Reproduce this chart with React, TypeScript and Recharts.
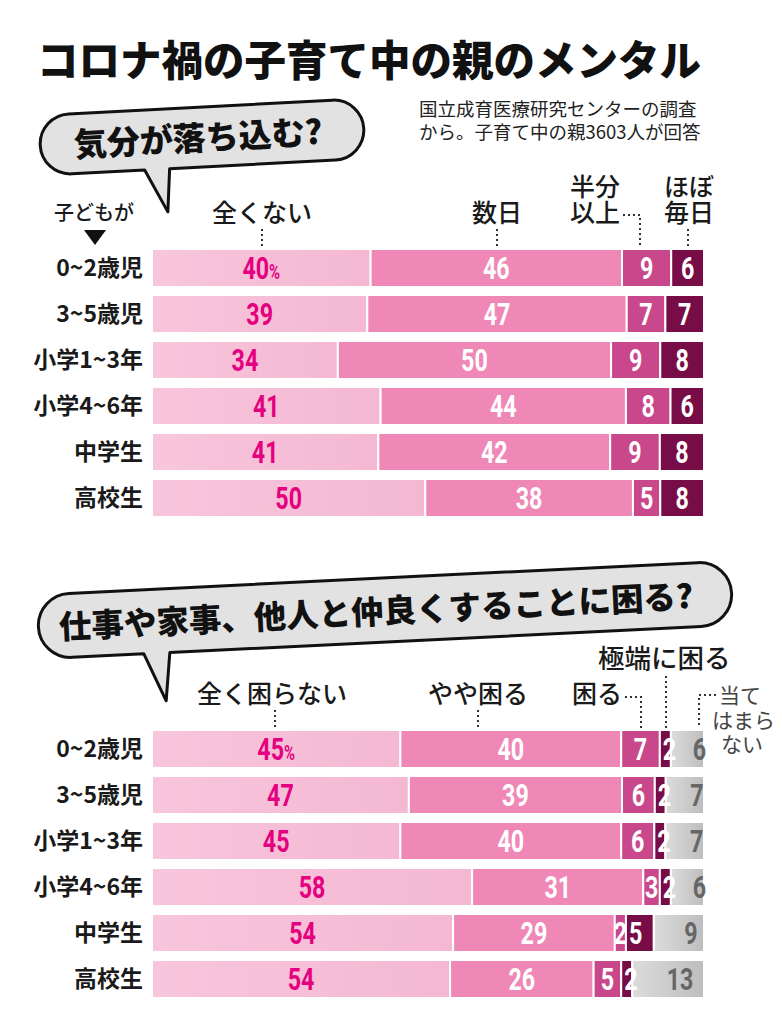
import { BarChart, Bar, XAxis, YAxis, LabelList } from 'recharts'

const ages = ['0~2歳児', '3~5歳児', '小学1~3年', '小学4~6年', '中学生', '高校生']

// 気分が落ち込む？ (%)
const moodNone = [40, 39, 34, 41, 41, 50]
const moodFewDays = [46, 47, 50, 44, 42, 38]
const moodHalf = [9, 7, 9, 8, 9, 5]
const moodDaily = [6, 7, 8, 6, 8, 8]

// 仕事や家事、他人と仲良くすることに困る？ (%)
const lifeNotAtAll = [45, 47, 45, 58, 54, 54]
const lifeSlightly = [40, 39, 40, 31, 29, 26]
const lifeTrouble = [7, 6, 6, 3, 2, 5]
const lifeExtreme = [2, 2, 2, 2, 5, 2]
const lifeNA = [6, 7, 7, 6, 9, 13]

const moodData = ages.map((name, i) => ({
  name,
  none: moodNone[i],
  few: moodFewDays[i],
  half: moodHalf[i],
  daily: moodDaily[i],
}))

const lifeData = ages.map((name, i) => ({
  name,
  notAtAll: lifeNotAtAll[i],
  slightly: lifeSlightly[i],
  trouble: lifeTrouble[i],
  extreme: lifeExtreme[i],
  na: lifeNA[i],
}))

const C2 = '#ef88b6'
const C3 = '#c9488b'
const C4 = '#780c47'
const MAGENTA = '#e4007f'

const JP = "'Noto Sans CJK JP', 'Noto Sans', sans-serif"
const NUM = "Roboto, 'Liberation Sans', sans-serif"

function makeLabel(values: number[], color: string, mode: 'center' | 'start' | 'shift' = 'center', pct = false) {
  return (props: any) => {
    const { x, y, width, height, index } = props
    const v = values[index]
    let cx = x + width / 2
    let anchor: 'middle' | 'start' = 'middle'
    if (mode === 'start') {
      cx = x + 3
      anchor = 'start'
    } else if (mode === 'shift') {
      cx = x + width / 2 + 12
    }
    const cy = y + height / 2 + 11
    return (
      <g transform={`translate(${cx},${cy}) scale(0.75,1)`}>
        <text x={0} y={0} textAnchor={anchor} fill={color} fontFamily={NUM} fontWeight={700} fontSize={31}>
          {v}
          {pct && index === 0 ? <tspan fontSize={20}>%</tspan> : null}
        </text>
      </g>
    )
  }
}

function AgeTick(props: any) {
  const { y, payload } = props
  return (
    <text x={143} y={y + 8} textAnchor="end" fill="#1a1a1a" fontFamily={JP} fontWeight={700} fontSize={23}>
      {payload.value}
    </text>
  )
}

function Dots({ d }: { d: string }) {
  return <path d={d} stroke="#333" strokeWidth={2} strokeDasharray="2 3" fill="none" />
}

function Overlay() {
  const hdr = { fontFamily: JP, fontWeight: 500, fontSize: 25, fill: '#1a1a1a' }
  return (
    <svg width={782} height={1024} style={{ position: 'absolute', left: 0, top: 0, pointerEvents: 'none' }}>
      <text x={37} y={76} fontFamily={JP} fontWeight={900} fontSize={41.5} fill="#111">
        コロナ禍の子育て中の親のメンタル
      </text>
      <text fontFamily={JP} fontSize={18.5} fill="#222">
        <tspan x={419} y={116}>国立成育医療研究センターの調査</tspan>
        <tspan x={419} y={139}>から。子育て中の親3603人が回答</tspan>
      </text>

      {/* bubble 1 */}
      <g transform="rotate(-3 202 137)">
        <path
          d="M 70 107 H 334 A 30 30 0 0 1 334 167 H 168 L 164 210 L 143 167 H 70 A 30 30 0 0 1 70 107 Z"
          fill="#e2e2e2"
          stroke="#111"
          strokeWidth={3}
          strokeLinejoin="round"
        />
        <text x={198} y={150} textAnchor="middle" fontFamily={JP} fontWeight={800} fontSize={33} fill="#111">
          気分が落ち込む?
        </text>
      </g>

      {/* bubble 2 */}
      <g transform="rotate(-2.8 385 610)">
        <path
          d="M 70 578 H 700 A 32 32 0 0 1 700 642 H 168 L 162 690 L 142 642 H 70 A 32 32 0 0 1 70 578 Z"
          fill="#e2e2e2"
          stroke="#111"
          strokeWidth={3}
          strokeLinejoin="round"
        />
        <text x={376} y={623} textAnchor="middle" fontFamily={JP} fontWeight={800} fontSize={32.5} fill="#111">
          仕事や家事、他人と仲良くすることに困る?
        </text>
      </g>

      {/* top headers */}
      <text x={94} y={220} textAnchor="middle" fontFamily={JP} fontWeight={500} fontSize={20} fill="#1a1a1a">子どもが</text>
      <path d="M 84 230 H 106 L 95 245 Z" fill="#111" />
      <text x={262} y={222} textAnchor="middle" {...hdr}>全くない</text>
      <Dots d="M 262 229 V 248" />
      <text x={497} y={222} textAnchor="middle" {...hdr}>数日</text>
      <Dots d="M 497 229 V 248" />
      <text {...hdr}>
        <tspan x={570} y={196}>半分</tspan>
        <tspan x={570} y={222}>以上</tspan>
      </text>
      <Dots d="M 623 215 H 640 V 248" />
      <text {...hdr}>
        <tspan x={664} y={196}>ほぼ</tspan>
        <tspan x={664} y={222}>毎日</tspan>
      </text>
      <Dots d="M 688 229 V 248" />

      {/* bottom headers */}
      <text x={598} y={668} {...hdr} fontSize={26.5}>極端に困る</text>
      <Dots d="M 666 676 V 728" />
      <text x={272} y={703} textAnchor="middle" {...hdr}>全く困らない</text>
      <Dots d="M 275 710 V 728" />
      <text x={478} y={703} textAnchor="middle" {...hdr}>やや困る</text>
      <Dots d="M 478 710 V 728" />
      <text x={572} y={703} {...hdr}>困る</text>
      <Dots d="M 625 697 H 641 V 728" />
      <Dots d="M 716 695 H 699 V 728" />
      <text fontFamily={JP} fontSize={21} fill="#444">
        <tspan x={719} y={703}>当て</tspan>
        <tspan x={712} y={728}>はまら</tspan>
        <tspan x={721} y={752}>ない</tspan>
      </text>
    </svg>
  )
}

export default function App() {
  return (
    <div style={{ position: 'absolute', left: 0, top: 0, width: 782, height: 1024, background: '#fff', overflow: 'hidden' }}>
      <div style={{ position: 'absolute', left: 0, top: 245 }}>
        <BarChart
          width={782}
          height={276}
          data={moodData}
          layout="vertical"
          stackOffset="expand"
          margin={{ top: 0, right: 78, bottom: 0, left: 0 }}
        >
          <defs>
            <linearGradient id="pinkA" x1="0" y1="0" x2="1" y2="0">
              <stop offset="0%" stopColor="#f8c6dc" />
              <stop offset="100%" stopColor="#f4b8d2" />
            </linearGradient>
          </defs>
          <XAxis type="number" domain={[0, 1]} hide />
          <YAxis type="category" dataKey="name" width={152} axisLine={false} tickLine={false} tick={<AgeTick />} />
          <Bar dataKey="none" stackId="a" fill="url(#pinkA)" stroke="#fff" strokeWidth={2} barSize={38} isAnimationActive={false}>
            <LabelList content={makeLabel(moodNone, MAGENTA, 'center', true)} />
          </Bar>
          <Bar dataKey="few" stackId="a" fill={C2} stroke="#fff" strokeWidth={2} barSize={38} isAnimationActive={false}>
            <LabelList content={makeLabel(moodFewDays, '#fff')} />
          </Bar>
          <Bar dataKey="half" stackId="a" fill={C3} stroke="#fff" strokeWidth={2} barSize={38} isAnimationActive={false}>
            <LabelList content={makeLabel(moodHalf, '#fff')} />
          </Bar>
          <Bar dataKey="daily" stackId="a" fill={C4} stroke="#fff" strokeWidth={2} barSize={38} isAnimationActive={false}>
            <LabelList content={makeLabel(moodDaily, '#fff')} />
          </Bar>
        </BarChart>
      </div>

      <div style={{ position: 'absolute', left: 0, top: 726 }}>
        <BarChart
          width={782}
          height={276}
          data={lifeData}
          layout="vertical"
          stackOffset="expand"
          margin={{ top: 0, right: 78, bottom: 0, left: 0 }}
        >
          <defs>
            <linearGradient id="pinkB" x1="0" y1="0" x2="1" y2="0">
              <stop offset="0%" stopColor="#f8c6dc" />
              <stop offset="100%" stopColor="#f4b8d2" />
            </linearGradient>
            <linearGradient id="grayNA" x1="0" y1="0" x2="1" y2="0">
              <stop offset="0%" stopColor="#dcdcdc" />
              <stop offset="100%" stopColor="#bdbdbd" />
            </linearGradient>
          </defs>
          <XAxis type="number" domain={[0, 1]} hide />
          <YAxis type="category" dataKey="name" width={152} axisLine={false} tickLine={false} tick={<AgeTick />} />
          <Bar dataKey="notAtAll" stackId="b" fill="url(#pinkB)" stroke="#fff" strokeWidth={2} barSize={38} isAnimationActive={false}>
            <LabelList content={makeLabel(lifeNotAtAll, MAGENTA, 'center', true)} />
          </Bar>
          <Bar dataKey="slightly" stackId="b" fill={C2} stroke="#fff" strokeWidth={2} barSize={38} isAnimationActive={false}>
            <LabelList content={makeLabel(lifeSlightly, '#fff')} />
          </Bar>
          <Bar dataKey="trouble" stackId="b" fill={C3} stroke="#fff" strokeWidth={2} barSize={38} isAnimationActive={false}>
            <LabelList content={makeLabel(lifeTrouble, '#fff')} />
          </Bar>
          <Bar dataKey="extreme" stackId="b" fill={C4} stroke="#fff" strokeWidth={2} barSize={38} isAnimationActive={false}>
            <LabelList content={makeLabel(lifeExtreme, '#fff', 'start')} />
          </Bar>
          <Bar dataKey="na" stackId="b" fill="url(#grayNA)" stroke="#fff" strokeWidth={2} barSize={38} isAnimationActive={false}>
            <LabelList content={makeLabel(lifeNA, '#666', 'shift')} />
          </Bar>
        </BarChart>
      </div>

      <Overlay />
    </div>
  )
}
